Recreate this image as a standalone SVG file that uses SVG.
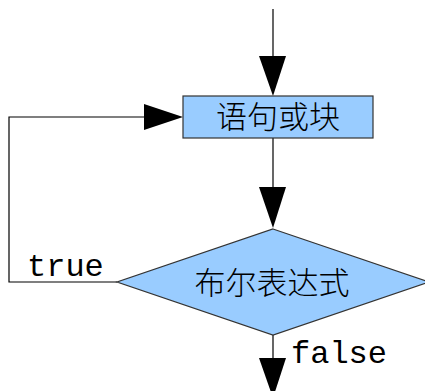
<svg xmlns="http://www.w3.org/2000/svg" width="425" height="391" viewBox="0 0 425 391">
<style>
.shape{fill:#99ccff;stroke:#333;stroke-width:1.2}
.line{stroke:#000;stroke-width:1.2;fill:none}
.head{fill:#000}
.cjk{font-family:"Liberation Sans","Noto Sans CJK SC",sans-serif;font-size:31px;font-weight:300;fill:#000;text-anchor:middle}
.mono{font-family:"Liberation Mono",monospace;font-size:32px;fill:#000}
</style>
<rect width="425" height="391" fill="#fff"/>
<g id="connectors">
<line class="line" x1="273" y1="9" x2="273" y2="60"/>
<polygon class="head" points="259,56 286,56 273,96"/>
<line class="line" x1="273" y1="138" x2="273" y2="190"/>
<polygon class="head" points="259,187 286,187 273,228"/>
<polyline class="line" points="117,282 9,282 9,117 150,117"/>
<polygon class="head" points="144,104 144,130 183,117"/>
<line class="line" x1="273" y1="335" x2="273" y2="362"/>
<polygon class="head" points="259,358 286,358 273,398"/>
<text class="mono" x="27" y="276">true</text>
<text class="mono" x="291" y="363">false</text>
</g>
<g id="block">
<rect class="shape" x="183" y="96" width="190" height="42"/>
<text class="cjk" x="278" y="128">语句或块</text>
</g>
<g id="condition">
<polygon class="shape" points="273,229 429,282 273,335 117,282"/>
<text class="cjk" x="272" y="294">布尔表达式</text>
</g>
</svg>
